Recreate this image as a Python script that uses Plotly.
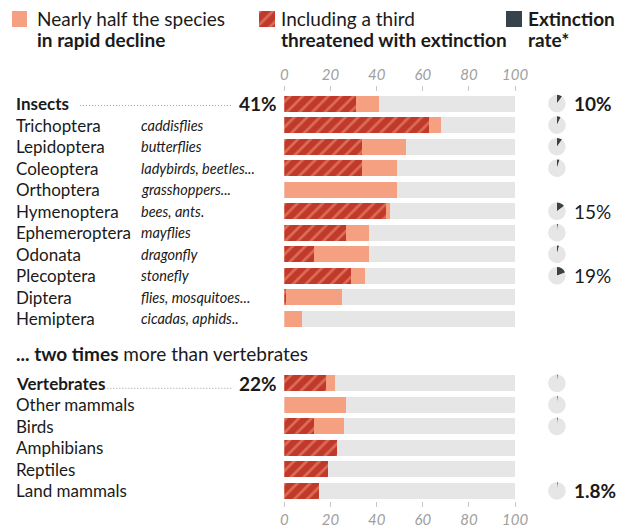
import plotly.graph_objects as go

W, H = 640, 528

# ---------------- data ----------------
insect_names = ["Insects", "Trichoptera", "Lepidoptera", "Coleoptera", "Orthoptera",
                "Hymenoptera", "Ephemeroptera", "Odonata", "Plecoptera", "Diptera", "Hemiptera"]
insect_common = ["", "caddisflies", "butterflies", "ladybirds, beetles...", "grasshoppers...",
                 "bees, ants.", "mayflies", "dragonfly", "stonefly", "flies, mosquitoes...",
                 "cicadas, aphids.."]
insect_decline = [41, 68, 53, 49, 49, 46, 37, 37, 35, 25, 8]
insect_threat = [31, 63, 34, 34, 0, 44, 27, 13, 29, 1, 0]
insect_ext = [10, 7, 10, 5, None, 15, 2, 4, 19, None, None]
insect_ext_label = ["10%", "", "", "", "", "15%", "", "", "19%", "", ""]

vert_names = ["Vertebrates", "Other mammals", "Birds", "Amphibians", "Reptiles", "Land mammals"]
vert_common = ["", "", "", "", "", ""]
vert_decline = [22, 27, 26, 23, 19, 15]
vert_threat = [18, 0, 13, 23, 19, 15]
vert_ext = [1.8, 1.8, 1.8, None, None, 1.8]
vert_ext_label = ["", "", "", "", "", "1.8%"]

tick_vals = [0, 20, 40, 60, 80, 100]

# ---------------- style ----------------
SALMON = "#f5a181"
RED = "#c0392b"
GREY_BAR = "#e6e6e6"
DARK = "#37434a"
TXT = "#1a1a1a"
FONT = "Lato"

ROW0, STEP = 104, 21.6          # pixel centre of first row, pixels per row
BAR_W = 0.74


def px_y(r):
    return ROW0 + STEP * r


def paper_y(px):
    return 1 - px / H


insect_rows = list(range(len(insect_names)))
vert_rows = list(range(13, 13 + len(vert_names)))
rows = insect_rows + vert_rows
names = insect_names + vert_names
common = insect_common + vert_common
decline = insect_decline + vert_decline
threat = insect_threat + vert_threat
ext = insect_ext + vert_ext
ext_label = insect_ext_label + vert_ext_label
header_rows = [insect_rows[0], vert_rows[0]]

fig = go.Figure()

# background bars
fig.add_bar(y=rows, x=[tick_vals[-1]] * len(rows), orientation="h", width=BAR_W,
            marker=dict(color=GREY_BAR, line=dict(width=0)), hoverinfo="skip", showlegend=False)
# decline
fig.add_bar(y=rows, x=decline, orientation="h", width=BAR_W,
            marker=dict(color=SALMON, line=dict(width=0)), showlegend=False)
# threatened (hatched)
hatch = dict(shape="/", fgcolor=SALMON, bgcolor=RED, size=9, solidity=0.3, fillmode="overlay")
fig.add_bar(y=rows, x=threat, orientation="h", width=BAR_W,
            marker=dict(color=RED, line=dict(width=0), pattern=hatch), showlegend=False)

# legend swatches on a pixel-space helper axis
SW = 16
sw_x = [16, 270, 524]
fig.add_bar(x=[sw_x[0]], y=[SW], base=[11], width=SW, xaxis="x3", yaxis="y3",
            marker=dict(color=SALMON, line=dict(width=0)), showlegend=False, hoverinfo="skip")
fig.add_bar(x=[sw_x[1]], y=[SW], base=[11], width=SW, xaxis="x3", yaxis="y3",
            marker=dict(color=RED, line=dict(width=0),
                        pattern=dict(shape="/", fgcolor=SALMON, bgcolor=RED, size=9, solidity=0.3,
                                     fillmode="overlay")),
            showlegend=False, hoverinfo="skip")
fig.add_bar(x=[sw_x[2]], y=[SW], base=[11], width=SW, xaxis="x3", yaxis="y3",
            marker=dict(color=DARK, line=dict(width=0)), showlegend=False, hoverinfo="skip")

# extinction pies
PIE_X, PIE_R = 568, 9
for r, e in zip(rows, ext):
    if e is None:
        continue
    yc = px_y(r)
    fig.add_trace(go.Pie(values=[e, 100 - e], sort=False, direction="clockwise", rotation=0,
                         marker=dict(colors=[DARK, GREY_BAR], line=dict(width=0)),
                         textinfo="none", hoverinfo="skip", showlegend=False,
                         domain=dict(x=[(PIE_X - PIE_R) / W, (PIE_X + PIE_R) / W],
                                     y=[paper_y(yc + PIE_R), paper_y(yc - PIE_R)])))

annotations = []
for r, n, c in zip(rows, names, common):
    bold = r in header_rows
    annotations.append(dict(x=10 / W, xref="paper", y=r, yref="y", xanchor="left", yanchor="middle",
                            text=f"<b>{n}</b>" if bold else n, showarrow=False,
                            font=dict(family=FONT, size=17, color=TXT)))
    if c:
        annotations.append(dict(x=139 / W, xref="paper", y=r, yref="y", xanchor="left",
                                yanchor="middle", text=c, showarrow=False,
                                font=dict(family=FONT, size=14.5, color=TXT, style="italic")))

# header percentages
for r, v in [(insect_rows[0], insect_decline[0]), (vert_rows[0], vert_decline[0])]:
    annotations.append(dict(x=282 / W, xref="paper", y=r, yref="y", xanchor="right", yanchor="middle",
                            text=f"<b>{v}%</b>", showarrow=False,
                            font=dict(family=FONT, size=19, color=TXT)))

# extinction labels
for r, lab in zip(rows, ext_label):
    if lab:
        bold = r in header_rows or r == vert_rows[-1]
        annotations.append(dict(x=583 / W, xref="paper", y=r, yref="y", xanchor="left",
                                yanchor="middle", text=f"<b>{lab}</b>" if bold else lab,
                                showarrow=False, font=dict(family=FONT, size=19, color=TXT)))

# subtitle
annotations.append(dict(x=10 / W, xref="paper", y=paper_y(355), yref="paper", xanchor="left",
                        yanchor="middle", text="<b>... two times</b> more than vertebrates",
                        showarrow=False, font=dict(family=FONT, size=19, color=TXT)))

# legend text
leg = [(32, "Nearly half the species", "<b>in rapid decline</b>"),
       (282, "Including a third", "<b>threatened with extinction</b>"),
       (536, "<b>Extinction</b>", "<b>rate*</b>")]
for x, l1, l2 in leg:
    annotations.append(dict(x=x / W, xref="paper", y=paper_y(19), yref="paper", xanchor="left",
                            yanchor="middle", text=l1, showarrow=False,
                            font=dict(family=FONT, size=19, color=TXT)))
    annotations.append(dict(x=x / W, xref="paper", y=paper_y(40), yref="paper", xanchor="left",
                            yanchor="middle", text=l2, showarrow=False,
                            font=dict(family=FONT, size=19, color=TXT)))

DOTS = dict(color="#9a9a9a", width=1, dash="1px,2px")
shapes = [
    dict(type="line", xref="paper", yref="paper", x0=78 / W, x1=234 / W,
         y0=paper_y(px_y(insect_rows[0]) + 2), y1=paper_y(px_y(insect_rows[0]) + 2), line=DOTS),
    dict(type="line", xref="paper", yref="paper", x0=100 / W, x1=234 / W,
         y0=paper_y(px_y(vert_rows[0]) + 5), y1=paper_y(px_y(vert_rows[0]) + 5), line=DOTS),
]

tickfont = dict(family=FONT, size=15, color="#a0a0a0", style="italic")
axis_common = dict(range=[0, 100], tickvals=tick_vals, ticks="outside", ticklen=5, tickwidth=1,
                   tickcolor="#c8c8c8", showgrid=False, zeroline=False, showline=False,
                   tickfont=tickfont, fixedrange=True)

fig.update_layout(
    width=W, height=H, margin=dict(l=0, r=0, t=0, b=0),
    paper_bgcolor="white", plot_bgcolor="rgba(0,0,0,0)",
    barmode="overlay", bargap=0,
    xaxis=dict(domain=[288 / W, 525 / W], side="top", anchor="free", position=paper_y(91),
               **axis_common),
    xaxis2=dict(domain=[288 / W, 525 / W], side="bottom", anchor="free", position=paper_y(503),
                overlaying="x", **axis_common),
    yaxis=dict(domain=[0, 1], range=[(H - ROW0) / STEP, -ROW0 / STEP], visible=False,
               fixedrange=True),
    xaxis3=dict(domain=[0, 1], range=[0, W], visible=False, anchor="y3"),
    yaxis3=dict(domain=[0, 1], range=[H, 0], visible=False, anchor="x3", overlaying="y"),
    annotations=annotations, shapes=shapes,
    showlegend=False,
    font=dict(family=FONT, color=TXT),
)

# invisible trace so the bottom axis is drawn
fig.add_scatter(x=[None], y=[None], xaxis="x2", yaxis="y", showlegend=False, hoverinfo="skip")

fig.write_html("out.html",
               post_script="document.body.style.margin='0';document.body.style.overflow='hidden';")
